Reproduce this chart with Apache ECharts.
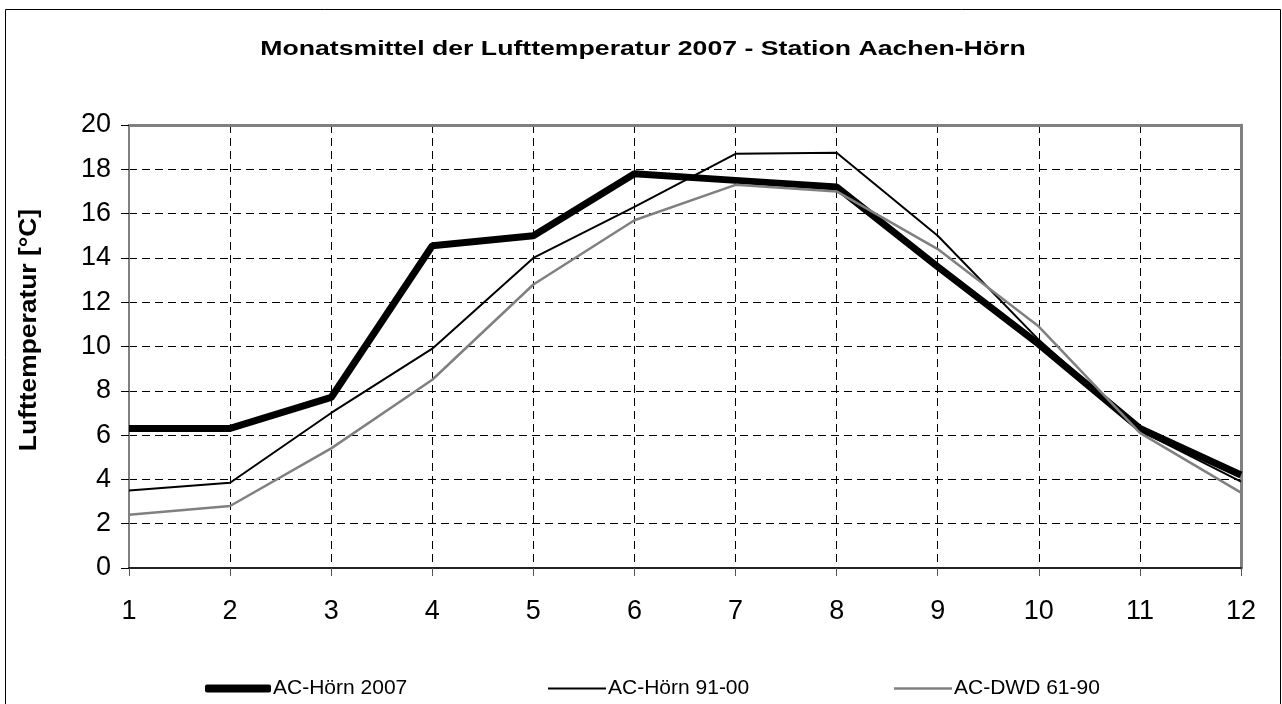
<!DOCTYPE html>
<html>
<head>
<meta charset="utf-8">
<script src="https://cdn.jsdelivr.net/npm/echarts@6/dist/echarts.min.js"></script>
<style>html,body{margin:0;padding:0;background:#fff;}#c{width:1282px;height:704px;}</style>
</head>
<body>
<div id="c"></div>
<script>
const months = [1,2,3,4,5,6,7,8,9,10,11,12];
const horn2007 = [6.3, 6.3, 7.7, 14.55, 15.0, 17.8, 17.5, 17.2, 13.6, 10.1, 6.3, 4.2];
const horn9100 = [3.5, 3.85, 7.0, 9.9, 14.0, 16.3, 18.7, 18.75, 15.0, 10.3, 6.2, 3.9];
const dwd6190 = [2.4, 2.8, 5.4, 8.5, 12.8, 15.7, 17.3, 17.0, 14.4, 10.9, 6.1, 3.4];
const seriesNames = ['AC-Hörn 2007', 'AC-Hörn 91-00', 'AC-DWD 61-90'];
const titleText = 'Monatsmittel der Lufttemperatur 2007 - Station Aachen-Hörn';
const yAxisTitle = 'Lufttemperatur [°C]';

const chart = echarts.init(document.getElementById('c'), null, {renderer:'canvas'});
const FONT = '"Liberation Sans", Arial, sans-serif';
const pair = arr => arr.map((v,i)=>[months[i], v]);
const legendBase = {
  orient:'horizontal', top: 678, itemGap: 4, padding:0,
  textStyle:{fontFamily:FONT, fontSize:21, color:'#000', padding:[0,0,0,-3]}
};
chart.setOption({
  animation:false,
  backgroundColor:'#fff',
  textStyle:{fontFamily:FONT},
  graphic:[
    {type:'rect', shape:{x:5.5, y:9.5, width:1275, height:720}, style:{fill:'none', stroke:'#000', lineWidth:1}, z:-10},
    {type:'text', x:643, y:49, scaleX:1.3, scaleY:1,
      style:{text:titleText, font:'bold 20.5px "Liberation Sans", Arial, sans-serif', fill:'#000', align:'center', verticalAlign:'middle'}},
    {type:'text', x:29, y:330, rotation:Math.PI/2, scaleX:1.1, scaleY:1,
      style:{text:yAxisTitle, font:'bold 24px "Liberation Sans", Arial, sans-serif', fill:'#000', align:'center', verticalAlign:'middle'}}
  ],
  legend:[
    Object.assign({}, legendBase, {left:205, itemWidth:66, itemHeight:8, data:[{name:seriesNames[0], icon:'roundRect'}]}),
    Object.assign({}, legendBase, {left:548, itemWidth:58, itemHeight:2, data:[{name:seriesNames[1], icon:'rect'}]}),
    Object.assign({}, legendBase, {left:894, itemWidth:58, itemHeight:2.5, data:[{name:seriesNames[2], icon:'rect'}]})
  ],
  grid:{left:129, right:41, top:125, bottom:136, containLabel:false},
  xAxis:[{
    type:'value', min:1, max:12, interval:1,
    axisLine:{lineStyle:{color:'#222', width:2}},
    axisTick:{show:true, length:8, inside:false, lineStyle:{color:'#555'}},
    axisLabel:{fontFamily:FONT, fontSize:27, color:'#000', margin:30},
    splitLine:{show:true, lineStyle:{color:'#000', type:[8,5], width:1}}
  },{
    type:'value', min:1, max:12, position:'top',
    axisLine:{show:true, onZero:false, lineStyle:{color:'#808080', width:3}},
    axisTick:{show:false}, axisLabel:{show:false}, splitLine:{show:false}
  }],
  yAxis:[{
    type:'value', min:0, max:20, interval:2,
    axisLine:{show:true, lineStyle:{color:'#808080', width:2}},
    axisTick:{show:true, length:8, inside:false, lineStyle:{color:'#000'}},
    axisLabel:{fontFamily:FONT, fontSize:27, color:'#000', margin:18},
    splitLine:{show:true, lineStyle:{color:'#000', type:[8,5], width:1}}
  },{
    type:'value', min:0, max:20, position:'right',
    axisLine:{show:true, onZero:false, lineStyle:{color:'#808080', width:3}},
    axisTick:{show:false}, axisLabel:{show:false}, splitLine:{show:false}
  }],
  series:[
    {name:seriesNames[0], type:'line', data:pair(horn2007), showSymbol:false, symbol:'none',
      lineStyle:{color:'#000', width:7}, itemStyle:{color:'#000'}},
    {name:seriesNames[1], type:'line', data:pair(horn9100), showSymbol:false, symbol:'none',
      lineStyle:{color:'#000', width:2}, itemStyle:{color:'#000'}},
    {name:seriesNames[2], type:'line', data:pair(dwd6190), showSymbol:false, symbol:'none',
      lineStyle:{color:'#808080', width:2.5}, itemStyle:{color:'#808080'}}
  ]
});
</script>
</body>
</html>
